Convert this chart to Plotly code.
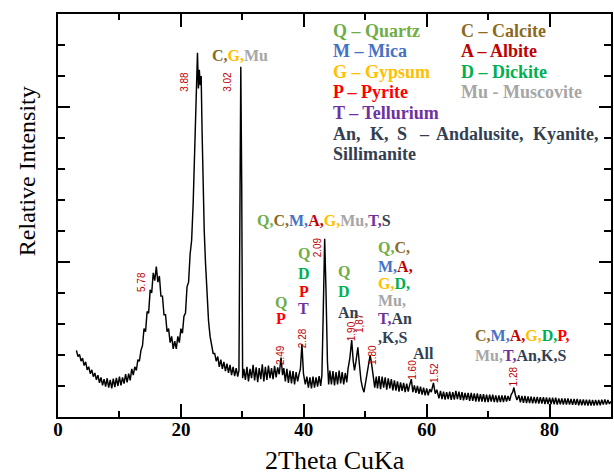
import plotly.graph_objects as go

# ---- diffraction scan (2-theta in degrees, relative intensity) ----
two_theta = [
    3.0, 3.25, 3.5, 3.75, 4.0, 4.25, 4.5, 4.75, 5.0, 5.25, 5.5, 5.75,
    6.0, 6.25, 6.5, 6.75, 7.0, 7.25, 7.5, 7.75, 8.0, 8.25, 8.5, 8.75,
    9.0, 9.25, 9.5, 9.75, 10.0, 10.25, 10.5, 10.75, 11.0, 11.25, 11.5, 11.75,
    12.0, 12.25, 12.5, 12.75, 13.0, 13.25, 13.5, 13.75,
    14.0, 14.25, 14.5, 14.75, 15.0, 15.25, 15.5, 15.75, 16.0, 16.25, 16.5, 16.75,
    17.0, 17.25, 17.5, 17.75, 18.0, 18.25, 18.5, 18.75, 19.0, 19.25, 19.5, 19.75,
    20.0, 20.25, 20.5, 20.75, 21.0, 21.25, 21.5, 21.75,
    22.0, 22.25, 22.5, 22.7, 22.85, 23.0, 23.15, 23.3, 23.45, 23.6, 23.8, 24.0, 24.25, 24.5, 24.75,
    25.0, 25.25, 25.5, 25.75, 26.0, 26.25, 26.5, 26.75, 27.0, 27.25, 27.5, 27.75, 28.0, 28.25, 28.5, 28.75, 29.0, 29.25,
    29.45, 29.6, 29.75, 29.9, 30.05,
    30.25, 30.5, 30.75, 31.0, 31.25, 31.5, 31.75, 32.0, 32.25, 32.5, 32.75, 33.0, 33.25, 33.5, 33.75, 34.0, 34.25, 34.5, 34.75,
    35.0, 35.25, 35.5, 35.75, 36.0, 36.3, 36.55, 36.75,
    37.0, 37.25, 37.5, 37.75, 38.0, 38.25, 38.5, 38.75, 39.0, 39.25, 39.45, 39.7, 39.95,
    40.25, 40.5, 40.75, 41.0, 41.25, 41.5, 41.75, 42.0, 42.25, 42.5, 42.75, 42.95,
    43.15, 43.4, 43.6, 43.85, 44.05,
    44.25, 44.5, 44.75, 45.0, 45.25, 45.5, 45.75, 46.0, 46.25, 46.5, 46.75, 47.0, 47.2,
    47.5, 47.8, 48.05, 48.25, 48.5, 48.8, 49.05, 49.3, 49.55, 49.8, 50.05, 50.3, 50.55, 50.8, 51.05, 51.3, 51.55, 51.8,
    52.0, 52.25, 52.5, 52.75, 53.0, 53.25, 53.5, 53.75, 54.0, 54.25, 54.5, 54.75, 55.0, 55.25, 55.5, 55.75, 56.0, 56.25, 56.5, 56.75,
    57.0, 57.25, 57.5, 57.75, 58.0, 58.25, 58.5, 58.75, 59.0, 59.25, 59.5, 59.75, 60.0, 60.25, 60.5, 60.75,
    61.1, 61.4, 61.65,
    62.0, 62.25, 62.5, 62.75, 63.0, 63.25, 63.5, 63.75, 64.0, 64.25, 64.5, 64.75, 65.0, 65.25, 65.5, 65.75, 66.0, 66.25, 66.5, 66.75,
    67.0, 67.25, 67.5, 67.75, 68.0, 68.25, 68.5, 68.75, 69.0, 69.25, 69.5, 69.75, 70.0, 70.25, 70.5, 70.75, 71.0, 71.25, 71.5, 71.75,
    72.0, 72.25, 72.5, 72.75, 73.0, 73.25, 73.5, 73.75,
    74.0, 74.2, 74.45, 74.7,
    75.0, 75.25, 75.5, 75.75, 76.0, 76.25, 76.5, 76.75, 77.0, 77.25, 77.5, 77.75, 78.0, 78.25, 78.5, 78.75, 79.0, 79.25, 79.5, 79.75,
    80.0, 80.25, 80.5, 80.75, 81.0, 81.25, 81.5, 81.75, 82.0, 82.25, 82.5, 82.75, 83.0, 83.25, 83.5, 83.75, 84.0, 84.25, 84.5, 84.75,
    85.0, 85.25, 85.5, 85.75, 86.0, 86.25, 86.5, 86.75, 87.0, 87.25, 87.5, 87.75, 88.0, 88.25, 88.5, 88.75, 89.0, 89.25, 89.5, 89.75, 90.0,
]
intensity = [
    2.15, 1.95, 2.02, 1.80, 1.90, 1.66, 1.78, 1.52, 1.62, 1.40, 1.52, 1.30,
    1.42, 1.20, 1.35, 1.10, 1.28, 1.02, 1.22, 0.98, 1.25, 0.95, 1.20, 0.92,
    1.24, 0.96, 1.26, 1.00, 1.30, 1.02, 1.28, 1.08, 1.38, 1.12, 1.40, 1.18,
    1.55, 1.35, 1.62, 1.50, 1.85, 1.80, 2.15, 2.30,
    2.85, 2.75, 3.40, 3.35, 4.10, 4.00, 4.65, 4.40, 4.85, 4.35, 4.55, 3.90,
    3.90, 3.30, 3.30, 2.75, 2.85, 2.40, 2.60, 2.20, 2.45, 2.20, 2.60, 2.40,
    2.85, 2.70, 3.25, 3.35, 4.20, 4.35, 5.25, 5.70,
    6.90, 8.90, 10.80, 11.75, 10.60, 11.20, 10.70, 11.00, 9.20, 7.40, 6.00, 5.00, 3.90, 3.10, 2.60,
    2.35, 2.05, 2.05, 1.80, 1.95, 1.62, 1.85, 1.55, 1.78, 1.48, 1.72, 1.42, 1.68, 1.35, 1.62, 1.32, 1.58, 1.30,
    1.50, 8.00, 11.30, 7.50, 1.25,
    1.55, 1.20, 1.62, 1.15, 1.55, 1.25, 1.68, 1.18, 1.60, 1.12, 1.58, 1.22, 1.70, 1.15, 1.62, 1.20, 1.66, 1.25, 1.58,
    1.22, 1.65, 1.28, 1.60, 1.38, 1.92, 1.35, 1.58,
    1.15, 1.55, 1.10, 1.50, 1.08, 1.48, 1.05, 1.45, 1.15, 1.40, 1.55, 2.35, 1.40,
    1.05, 1.30, 0.95, 1.28, 0.92, 1.30, 0.95, 1.28, 0.98, 1.32, 1.00, 1.35,
    3.20, 5.75, 4.20, 1.80, 1.05,
    1.50, 1.05, 1.48, 1.02, 1.45, 1.05, 1.50, 1.08, 1.45, 1.05, 1.42, 1.12, 1.55,
    1.90, 2.48, 1.80, 1.50, 1.80, 2.25, 1.70, 1.20, 0.95, 0.80, 1.10, 1.45, 1.70, 2.00, 1.70, 1.25, 0.95, 1.30,
    0.92, 1.32, 0.90, 1.30, 0.95, 1.28, 0.88, 1.25, 0.92, 1.22, 0.86, 1.18, 0.85, 1.15, 0.82, 1.12, 0.84, 1.10, 0.80, 1.08,
    0.82, 1.05, 1.22, 0.80, 1.02, 0.78, 1.00, 0.75, 0.98, 0.72, 0.95, 0.70, 0.92, 0.70, 0.90, 0.80,
    1.10, 0.75, 0.88,
    0.60, 0.84, 0.58, 0.82, 0.56, 0.80, 0.58, 0.82, 0.55, 0.80, 0.56, 0.84, 0.58, 0.82, 0.55, 0.80, 0.54, 0.78, 0.55, 0.78,
    0.52, 0.78, 0.52, 0.76, 0.50, 0.76, 0.50, 0.74, 0.50, 0.74, 0.48, 0.72, 0.48, 0.72, 0.50, 0.72, 0.48, 0.70, 0.47, 0.70,
    0.48, 0.70, 0.48, 0.70, 0.50, 0.68, 0.52, 0.72,
    0.80, 0.95, 0.70, 0.55,
    0.70, 0.47, 0.68, 0.46, 0.68, 0.45, 0.66, 0.45, 0.66, 0.44, 0.65, 0.44, 0.65, 0.43, 0.64, 0.43, 0.64, 0.42, 0.63, 0.42,
    0.62, 0.42, 0.62, 0.41, 0.62, 0.40, 0.60, 0.41, 0.60, 0.40, 0.60, 0.40, 0.60, 0.40, 0.58, 0.39, 0.58, 0.39, 0.58, 0.38,
    0.57, 0.38, 0.57, 0.38, 0.56, 0.37, 0.56, 0.37, 0.55, 0.37, 0.55, 0.38, 0.55, 0.38, 0.56, 0.40, 0.57, 0.40, 0.55, 0.42, 0.50,
]
assert len(two_theta) == len(intensity)

# ---- d-spacing labels (Angstrom) above the reflections ----
peak_d_labels = ["5.78", "3.88", "3.02", "2.49", "2.28", "2.09", "1.90", "1,87", "1.80", "1.60", "1.52", "1.28"]
peak_label_x = [13.6, 20.6, 27.6, 36.1, 39.7, 42.3, 47.7, 49.1, 51.2, 57.7, 61.3, 74.1]
peak_label_y = [4.34, 10.8, 10.8, 1.99, 2.54, 5.47, 2.77, 3.02, 1.99, 1.51, 1.41, 1.32]

# ---- mineral phase colours ----
mineral_colors = {
    "Q": "#70AD47", "C": "#8A6A1E", "M": "#4472C4", "A": "#C00000",
    "G": "#FFC000", "D": "#00B050", "P": "#FF0000", "Mu": "#A6A6A6",
    "T": "#7030A0", "An": "#333F50", "K": "#333F50", "S": "#333F50",
    "All": "#333F50",
}
DARK = "#333F50"

# phase assignments: (text, x, y, xanchor)
phase_labels = [
    ("C,G,Mu", 29.66, 11.67, "center"),
    ("Q,C,M,A,G,Mu,T,S", 43.3, 6.33, "center"),
    ("Q", 36.3, 3.70, "center"),
    ("P", 36.3, 3.18, "center"),
    ("Q", 40.0, 5.27, "center"),
    ("D", 40.0, 4.63, "center"),
    ("P", 40.0, 4.05, "center"),
    ("T", 40.0, 3.50, "center"),
    ("Q", 46.5, 4.69, "center"),
    ("D", 46.5, 4.05, "center"),
    ("An", 47.2, 3.38, "center"),
    ("Q,C,", 51.7, 5.47, "left"),
    ("M,A,", 51.7, 4.86, "left"),
    ("G,D,", 51.7, 4.31, "left"),
    ("Mu,", 51.7, 3.76, "left"),
    ("T,An", 51.7, 3.18, "left"),
    (",K,S", 51.7, 2.57, "left"),
    ("All", 59.5, 2.06, "center"),
    ("C,M,A,G,D,P,", 67.6, 2.64, "left"),
    ("Mu,T,An,K,S", 67.6, 1.99, "left"),
]

# key to the phase abbreviations: (text, colour key, x, y)
key_entries = [
    ("Q – Quartz", "Q", 44.4, 12.44), ("C – Calcite", "C", 65.2, 12.44),
    ("M – Mica", "M", 44.4, 11.80), ("A – Albite", "A", 65.2, 11.80),
    ("G – Gypsum", "G", 44.4, 11.13), ("D – Dickite", "D", 65.2, 11.13),
    ("P – Pyrite", "P", 44.4, 10.48), ("Mu - Muscovite", "Mu", 65.2, 10.48),
    ("T – Tellurium", "T", 44.4, 9.81),
    ("An,", "An", 44.4, 9.13), ("K,", "An", 50.4, 9.13), ("S", "An", 54.9, 9.13),
    ("–", "An", 58.4, 9.13), ("Andalusite,", "An", 61.2, 9.13), ("Kyanite,", "An", 77.0, 9.13),
    ("Sillimanite", "An", 44.4, 8.49),
]


def colorize(text):
    """Colour each comma-separated phase code with its mineral colour."""
    parts = text.split(",")
    out = []
    for i, p in enumerate(parts):
        col = mineral_colors.get(p, DARK)
        seg = p + ("," if i < len(parts) - 1 else "")
        if seg:
            out.append(f"<span style='color:{col}'>{seg}</span>")
    return "<b>" + "".join(out) + "</b>"


fig = go.Figure()
fig.add_trace(go.Scatter(
    x=two_theta, y=intensity, mode="lines",
    line=dict(color="black", width=1.45), hoverinfo="skip", showlegend=False,
))

annotations = []
for lab, x, y in zip(peak_d_labels, peak_label_x, peak_label_y):
    annotations.append(dict(
        x=x, y=y, xref="x", yref="y", text=lab, showarrow=False, textangle=-90,
        font=dict(family="Liberation Sans", size=10, color="#C00000"),
        xanchor="center", yanchor="middle",
    ))
for text, x, y, anchor in phase_labels:
    annotations.append(dict(
        x=x, y=y, xref="x", yref="y", text=colorize(text), showarrow=False,
        font=dict(family="Liberation Serif", size=16, color=DARK),
        xanchor=anchor, yanchor="middle",
    ))
for text, key, x, y in key_entries:
    annotations.append(dict(
        x=x, y=y, xref="x", yref="y", text=f"<b>{text}</b>", showarrow=False,
        font=dict(family="Liberation Serif", size=18, color=mineral_colors[key]),
        xanchor="left", yanchor="middle",
    ))

# axis titles
annotations.append(dict(
    x=0.5, y=-0.108, xref="paper", yref="paper", text="2Theta CuKa", showarrow=False,
    font=dict(family="Liberation Serif", size=26, color="black"),
    xanchor="center", yanchor="middle",
))
annotations.append(dict(
    x=-0.056, y=0.61, xref="paper", yref="paper", text="Relative Intensity", showarrow=False,
    textangle=-90, font=dict(family="Liberation Serif", size=24, color="black"),
    xanchor="center", yanchor="middle",
))

fig.update_layout(
    width=614, height=476,
    margin=dict(l=58, r=1, t=14, b=59),
    paper_bgcolor="white", plot_bgcolor="white",
    showlegend=False,
    annotations=annotations,
    xaxis=dict(
        range=[0, 90], tick0=0, dtick=20, ticks="inside", ticklen=13, tickwidth=2,
        tickcolor="black", showline=True, linewidth=2, linecolor="black", mirror="ticks",
        showgrid=False, zeroline=False, ticklabelstandoff=-6,
        minor=dict(dtick=10, ticks="inside", ticklen=6, tickwidth=2, tickcolor="black", showgrid=False),
        tickfont=dict(family="Liberation Serif", size=19, color="black", weight="bold"),
    ),
    yaxis=dict(
        range=[0, 13], tick0=0, dtick=5, ticks="inside", ticklen=12, tickwidth=2,
        tickcolor="black", showline=True, linewidth=2, linecolor="black", mirror="ticks",
        showgrid=False, zeroline=False, showticklabels=False,
        minor=dict(dtick=1, ticks="inside", ticklen=7, tickwidth=2, tickcolor="black", showgrid=False),
    ),
)

fig.write_html("out.html")
